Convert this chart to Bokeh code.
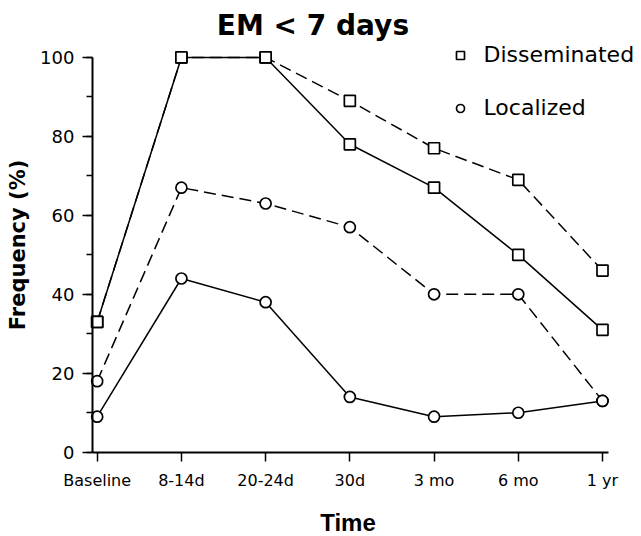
import math
from bokeh.plotting import figure
from bokeh.models import Range1d, FixedTicker, SingleIntervalTicker, Label, Legend, LegendItem
from bokeh.embed import file_html
from bokeh.resources import INLINE

# ---- data ----
time_labels = ["Baseline", "8-14d", "20-24d", "30d", "3 mo", "6 mo", "1 yr"]
dissem_solid = [33, 100, 100, 78, 67, 50, 31]
dissem_dashed = [33, 100, 100, 89, 77, 69, 46]
local_dashed = [18, 67, 63, 57, 40, 40, 13]
local_solid = [9, 44, 38, 14, 9, 10, 13]
series_names = ["Disseminated", "Localized"]
title_text = "EM < 7 days"
x_title = "Time"
y_title = "Frequency (%)"

x = list(range(len(time_labels)))

X0 = -0.056   # where the y axis crosses
p = figure(width=641, height=536, output_backend="svg", toolbar_location=None,
           x_range=Range1d(-1.148, 6.463), y_range=Range1d(-21.35, 114.42),
           min_border_left=0, min_border_right=0, min_border_top=0, min_border_bottom=0)
p.outline_line_color = None
p.grid.visible = False
p.background_fill_color = "white"
p.border_fill_color = "white"
p.title.visible = False

LW = 1.5
DASH = "12 6"
# lines
p.line(x, dissem_dashed, line_color="black", line_width=LW, line_dash=DASH)
p.line(x, dissem_solid, line_color="black", line_width=LW)
p.line(x, local_dashed, line_color="black", line_width=LW, line_dash=DASH)
p.line(x, local_solid, line_color="black", line_width=LW)
# markers
MS = 11
p.scatter(x, dissem_dashed, marker="square", size=MS, fill_color="white", line_color="black", line_width=1.7)
sq_r = p.scatter(x, dissem_solid, marker="square", size=MS, fill_color="white", line_color="black", line_width=1.7)
p.scatter(x, local_dashed, marker="circle", size=MS, fill_color="white", line_color="black", line_width=1.7)
ci_r = p.scatter(x, local_solid, marker="circle", size=MS, fill_color="white", line_color="black", line_width=1.7)

# axes (drawn at fixed data locations inside the frame)
xa = p.xaxis[0]
xa.fixed_location = 0
xa.ticker = FixedTicker(ticks=x)
xa.bounds = (X0, 6.071)
xa.major_label_overrides = {i: t for i, t in enumerate(time_labels)}
xa.major_tick_out = 9
xa.major_tick_in = 0
xa.minor_tick_out = 0
xa.minor_tick_in = 0
xa.major_label_text_font = "DejaVu Sans"
xa.major_label_text_font_size = "16px"
xa.major_label_text_color = "black"
xa.major_label_standoff = 10
xa.axis_line_width = 2
xa.axis_line_color = "black"
xa.major_tick_line_width = 1.5
xa.major_tick_line_color = "black"

ya = p.yaxis[0]
ya.fixed_location = X0
ya.ticker = SingleIntervalTicker(interval=20, num_minor_ticks=2)
ya.bounds = (0, 100)
ya.major_tick_out = 10
ya.major_tick_in = 0
ya.minor_tick_out = 6
ya.minor_tick_in = 0
ya.major_label_text_font = "DejaVu Sans"
ya.major_label_text_font_size = "18px"
ya.major_label_text_color = "black"
ya.major_label_standoff = 8
ya.axis_line_width = 2
ya.axis_line_color = "black"
ya.major_tick_line_width = 1.5
ya.minor_tick_line_width = 1.5
ya.major_tick_line_color = "black"
ya.minor_tick_line_color = "black"

# titles as labels
p.add_layout(Label(x=2.562, y=108.0, text=title_text, text_align="center", text_baseline="alphabetic",
                   text_font="DejaVu Sans", text_font_style="bold", text_font_size="28px", text_color="black"))
p.add_layout(Label(x=2.978, y=-17.75, text=x_title, text_align="center", text_baseline="alphabetic",
                   text_font="Liberation Sans", text_font_style="bold", text_font_size="24px", text_color="black"))
p.add_layout(Label(x=-0.946, y=52.5, text=y_title, angle=math.pi / 2, text_align="center",
                   text_baseline="alphabetic", text_font="DejaVu Sans", text_font_style="bold",
                   text_font_size="21px", text_color="black"))

legend = Legend(items=[LegendItem(label=series_names[0], renderers=[sq_r]),
                       LegendItem(label=series_names[1], renderers=[ci_r])],
                location=(449.5, 416), padding=0, margin=0, spacing=28,
                glyph_width=20, glyph_height=24, label_height=24, label_standoff=14,
                label_text_font="DejaVu Sans", label_text_font_size="22px", label_text_color="black",
                border_line_color=None, background_fill_alpha=0)
p.add_layout(legend)

open("out.html", "w").write(file_html(p, INLINE))
